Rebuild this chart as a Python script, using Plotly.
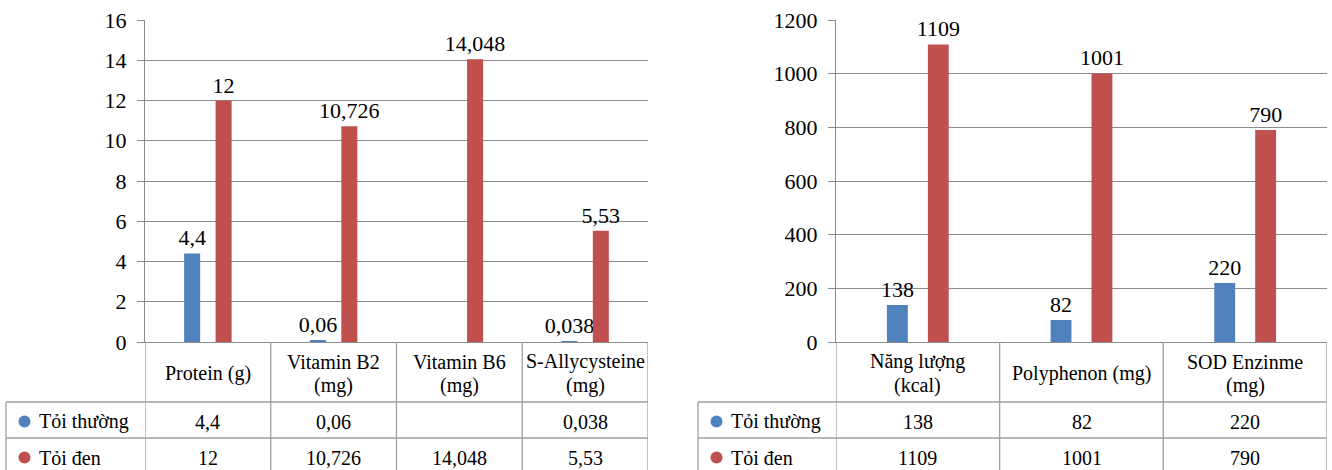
import plotly.graph_objects as go

# ---------------- data ----------------
left_categories = ["Protein (g)", "Vitamin B2\n(mg)", "Vitamin B6\n(mg)", "S-Allycysteine\n(mg)"]
left_normal = [4.4, 0.06, None, 0.038]
left_black = [12, 10.726, 14.048, 5.53]

right_categories = ["Năng lượng\n(kcal)", "Polyphenon (mg)", "SOD Enzinme\n(mg)"]
right_normal = [138, 82, 220]
right_black = [1109, 1001, 790]

series_names = ["Tỏi thường", "Tỏi đen"]
left_ticks = [0, 2, 4, 6, 8, 10, 12, 14, 16]
right_ticks = [0, 200, 400, 600, 800, 1000, 1200]

# ---------------- style ----------------
W, H = 1332, 470
FONT = "'Liberation Serif', 'Times New Roman', Tinos, serif"
BLUE = "#4F81BD"
RED = "#C0504D"
GRID = "#8C8C8C"
TABLE = "#A0A0A0"


def px(x):
    return x / W


def py(y):
    return 1 - y / H


def fmt(v):
    if v is None:
        return ""
    return str(v).replace(".", ",")


def key(c):
    return c.replace("\n", " ")


fig = go.Figure()

panels = [
    dict(cats=left_categories, vals=[left_normal, left_black], xa="x", ya="y",
         dom=(145, 648), tleft=6, ticks=left_ticks),
    dict(cats=right_categories, vals=[right_normal, right_black], xa="x2", ya="y2",
         dom=(836, 1327), tleft=698, ticks=right_ticks),
]

Y_TOP, Y_AX, Y_R1, Y_R2, Y_BOT = 20, 342, 402, 438, 470
ROW_C = [421.5, 457.5]
colors = [BLUE, RED]

shapes = []
annotations = []

for p in panels:
    keys = [key(c) for c in p["cats"]]
    for s, (name, vals, col) in enumerate(zip(series_names, p["vals"], colors)):
        fig.add_trace(go.Bar(
            x=keys, y=vals, name=name, marker=dict(color=col, line=dict(width=0)),
            text=[fmt(v) for v in vals], textposition="outside", cliponaxis=False,
            constraintext="none",
            textfont=dict(family=FONT, size=22, color="black"),
            xaxis=p["xa"], yaxis=p["ya"], showlegend=False,
        ))
    n = len(keys)
    xref = p["xa"]
    # vertical table lines at category boundaries (below the axis)
    for i in range(n + 1):
        shapes.append(dict(type="line", xref=xref, yref="paper", x0=i - 0.5, x1=i - 0.5,
                           y0=py(Y_AX), y1=py(Y_BOT), line=dict(color=TABLE, width=1.3)))
    # left border of row-label column
    shapes.append(dict(type="line", xref="paper", yref="paper", x0=px(p["tleft"]), x1=px(p["tleft"]),
                       y0=py(Y_R1), y1=py(Y_BOT), line=dict(color=TABLE, width=1.3)))
    # horizontal row lines
    for yy in (Y_R1, Y_R2):
        shapes.append(dict(type="line", xref="paper", yref="paper", x0=px(p["tleft"]), x1=px(p["dom"][1]),
                           y0=py(yy), y1=py(yy), line=dict(color=TABLE, width=1.3)))
    # header labels
    for c, k in zip(p["cats"], keys):
        lines = c.split("\n")
        if len(lines) == 1:
            centers = [373]
        else:
            centers = [361.5, 385]
        for t, cy in zip(lines, centers):
            annotations.append(dict(text=t, x=k, xref=xref, y=py(cy), yref="paper",
                                    xanchor="center", yanchor="middle", showarrow=False,
                                    font=dict(family=FONT, size=20, color="black")))
    # table values
    for r, vals in enumerate(p["vals"]):
        for k, v in zip(keys, vals):
            annotations.append(dict(text=fmt(v), x=k, xref=xref, y=py(ROW_C[r]), yref="paper",
                                    xanchor="center", yanchor="middle", showarrow=False,
                                    font=dict(family=FONT, size=20, color="black")))
        # row label with legend key
        cx = p["tleft"] + 18.5
        shapes.append(dict(type="circle", xref="paper", yref="paper",
                           x0=px(cx - 6), x1=px(cx + 6), y0=py(ROW_C[r] + 6), y1=py(ROW_C[r] - 6),
                           fillcolor=colors[r], line=dict(width=0)))
        annotations.append(dict(text=series_names[r], x=px(p["tleft"] + 31), xref="paper",
                                y=py(ROW_C[r]), yref="paper", xanchor="left", yanchor="middle",
                                showarrow=False, font=dict(family=FONT, size=20, color="black")))

axis_common = dict(showgrid=False, zeroline=False, showline=True, linecolor=GRID, linewidth=1.3,
                   ticks="", showticklabels=False, type="category", fixedrange=True,
                   automargin=False)
yaxis_common = dict(showgrid=True, gridcolor=GRID, gridwidth=1.3, zeroline=False, showline=True,
                    linecolor=GRID, linewidth=1.3, ticks="outside", ticklen=7, tickcolor=GRID,
                    tickwidth=1.3, tickfont=dict(family=FONT, size=22, color="black"),
                    ticklabelstandoff=6, fixedrange=True, automargin=False)

fig.update_layout(
    width=W, height=H,
    margin=dict(l=0, r=0, t=0, b=0, pad=0, autoexpand=False),
    paper_bgcolor="white", plot_bgcolor="white",
    barmode="group", bargap=0.5, bargroupgap=0.49,
    font=dict(family=FONT, color="black"),
    xaxis=dict(domain=[px(145), px(648)], range=[-0.5, len(left_categories) - 0.5], anchor="y", **axis_common),
    yaxis=dict(domain=[py(Y_AX), py(Y_TOP)], range=[0, max(left_ticks)], tickvals=left_ticks,
               anchor="x", **yaxis_common),
    xaxis2=dict(domain=[px(836), px(1327)], range=[-0.5, len(right_categories) - 0.5], anchor="y2", **axis_common),
    yaxis2=dict(domain=[py(Y_AX), py(Y_TOP)], range=[0, max(right_ticks)], tickvals=right_ticks,
                anchor="x2", **yaxis_common),
    shapes=shapes,
    annotations=annotations,
    showlegend=False,
)

fig.write_html(
    "out.html",
    config={"displayModeBar": False},
    post_script="document.body.style.margin='0';document.body.style.padding='0';"
                "document.body.style.overflow='hidden';",
)
